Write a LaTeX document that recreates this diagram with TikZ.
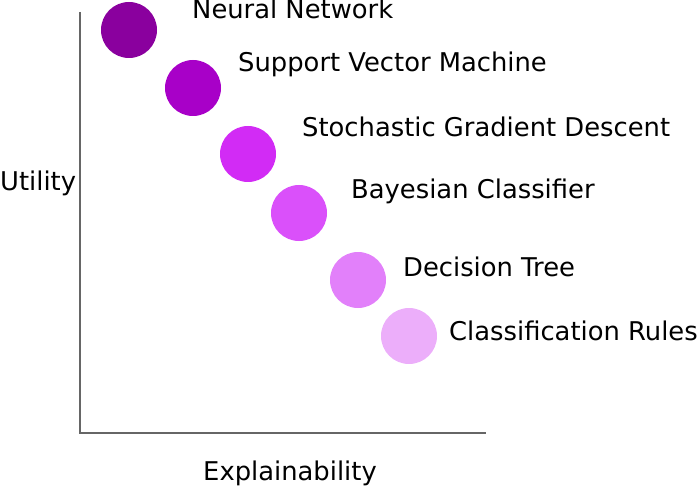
\documentclass[tikz,border=0pt]{standalone}
\usepackage{fontspec}
\setmainfont{DejaVu Sans}
\begin{document}
\begin{tikzpicture}[x=1pt,y=-1pt,
  dot/.style={circle,inner sep=0pt,minimum size=56pt},
  lbl/.style={anchor=base west,inner sep=0pt,font=\fontsize{25.8}{31}\selectfont,text=black},
  axisline/.style={draw=black!60,line width=1.3pt}]
\useasboundingbox (0,0) rectangle (700,486);
\definecolor{c1}{HTML}{8A009E}
\definecolor{c2}{HTML}{A800C8}
\definecolor{c3}{HTML}{D22BF5}
\definecolor{c4}{HTML}{DA50FA}
\definecolor{c5}{HTML}{E280FA}
\definecolor{c6}{HTML}{ECAEFA}
\coordinate (ytop) at (80,12);
\coordinate (origin) at (80,433);
\coordinate (xend) at (486,433);
\draw[axisline] (ytop) -- (origin) -- (xend);
\node[dot,fill=c1] (n1) at (129,30) {};
\node[dot,fill=c2] (n2) at (193,88) {};
\node[dot,fill=c3] (n3) at (248,154) {};
\node[dot,fill=c4] (n4) at (299,213) {};
\node[dot,fill=c5] (n5) at (358,280) {};
\node[dot,fill=c6] (n6) at (409,336) {};
\node[lbl] (t1) at (192,19) {Neural Network};
\node[lbl] (t2) at (238,72) {Support Vector Machine};
\node[lbl] (t3) at (302,137) {Stochastic Gradient Descent};
\node[lbl] (t4) at (351,198) {Bayesian Classifier};
\node[lbl] (t5) at (403,276) {Decision Tree};
\node[lbl] (t6) at (449,340) {Classification Rules};
\node[lbl] (ylab) at (0,190) {Utility};
\node[lbl] (xlab) at (203,480) {Explainability};
\end{tikzpicture}
\end{document}
